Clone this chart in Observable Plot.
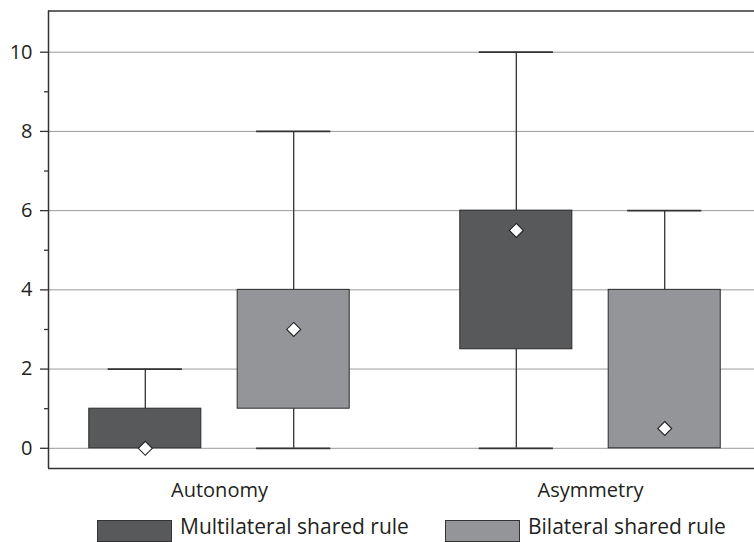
<!DOCTYPE html>
<html>
<head>
<meta charset="utf-8">
<script src="https://cdn.jsdelivr.net/npm/d3@7"></script>
<script src="https://cdn.jsdelivr.net/npm/@observablehq/plot@0.6"></script>
<style>
  html, body { margin: 0; padding: 0; background: #fff; }
  #chart { width: 754px; }
  .legend { display: flex; align-items: flex-start; padding-left: 97px; margin-top: 10px;
            font-family: "Open Sans", sans-serif; font-size: 21px; color: #231f20; line-height: 22px; }
  .item { display: flex; align-items: flex-start; }
  .item.first { width: 348px; }
  .sw { width: 75px; height: 22px; box-sizing: border-box; border: 1px solid #333; margin-right: 8px; margin-top: 5px; }
</style>
</head>
<body>
<div id="chart"></div>
<script>
const groups = ["Autonomy", "Asymmetry"];
const series = ["Multilateral shared rule", "Bilateral shared rule"];
const colors = ["#58595b", "#939598"];

// Multilateral shared rule, per group
const multiLow  = [0, 0];
const multiQ1   = [0, 2.5];
const multiQ3   = [1, 6];
const multiHigh = [2, 10];
const multiMean = [0, 5.5];

// Bilateral shared rule, per group
const biLow  = [0, 0];
const biQ1   = [1, 0];
const biQ3   = [4, 4];
const biHigh = [8, 6];
const biMean = [3, 0.5];

const yTicks = [0, 2, 4, 6, 8, 10];
const yMinorTicks = [1, 3, 5, 7, 9];
const yDomain = [-0.51, 11.04];
const xDomain = [-0.4609, 1.442];

const seriesStats = [
  {low: multiLow, q1: multiQ1, q3: multiQ3, high: multiHigh, mean: multiMean},
  {low: biLow, q1: biQ1, q3: biQ3, high: biHigh, mean: biMean}
];

const offset = 0.2, boxHalf = 0.151, capHalf = 0.1;
const rows = [];
groups.forEach((g, gi) => {
  series.forEach((s, si) => {
    const st = seriesStats[si];
    rows.push({
      group: g, series: s,
      x: gi + (si - 0.5) * 2 * offset,
      low: st.low[gi], q1: st.q1[gi], q3: st.q3[gi], high: st.high[gi], mean: st.mean[gi]
    });
  });
});

const lowerW = rows.filter(d => d.low < d.q1);
const upperW = rows.filter(d => d.high > d.q3);
const ink = "#333";

const chart = Plot.plot({
  width: 754,
  height: 505,
  marginLeft: 48,
  marginRight: 0,
  marginTop: 10.5,
  marginBottom: 37,
  style: {fontFamily: "Open Sans, sans-serif", fontSize: "20px", color: "#231f20", background: "#fff", overflow: "visible"},
  x: {type: "linear", domain: xDomain},
  y: {domain: yDomain},
  color: {domain: series, range: colors},
  marks: [
    Plot.ruleY(yTicks, {stroke: "#9a9a9a", strokeWidth: 1}),
    Plot.ruleX(upperW, {x: "x", y1: "q3", y2: "high", stroke: ink, strokeWidth: 1.3}),
    Plot.ruleX(lowerW, {x: "x", y1: "low", y2: "q1", stroke: ink, strokeWidth: 1.3}),
    Plot.ruleY(upperW, {y: "high", x1: d => d.x - capHalf, x2: d => d.x + capHalf, stroke: ink, strokeWidth: 1.8}),
    Plot.ruleY(lowerW, {y: "low", x1: d => d.x - capHalf, x2: d => d.x + capHalf, stroke: ink, strokeWidth: 1.8}),
    Plot.rect(rows, {x1: d => d.x - boxHalf, x2: d => d.x + boxHalf, y1: "q1", y2: "q3", fill: "series", stroke: "#2b2b2b", strokeWidth: 1}),
    Plot.dot(rows, {x: "x", y: "mean", symbol: "diamond2", r: 6.3, fill: "#fff", stroke: "#222", strokeWidth: 1.1}),
    Plot.ruleY([yDomain[1]], {stroke: ink, strokeWidth: 1.5}),
    Plot.ruleY([yDomain[0]], {stroke: ink, strokeWidth: 1.5}),
    Plot.ruleX([xDomain[0]], {stroke: ink, strokeWidth: 1.5}),
    Plot.axisY({ticks: yTicks, tickSize: 8, tickPadding: 8, stroke: ink, strokeWidth: 1.3, label: null}),
    Plot.axisY({ticks: yMinorTicks, tickSize: 4, tickFormat: () => "", stroke: ink, strokeWidth: 1.3, label: null}),
    Plot.axisX({ticks: [0, 1], tickFormat: i => groups[i], tickSize: 0, tickPadding: 14, label: null})
  ]
});
document.getElementById("chart").appendChild(chart);

const legend = document.createElement("div");
legend.className = "legend";
series.forEach((s, i) => {
  const item = document.createElement("div");
  item.className = i === 0 ? "item first" : "item";
  const sw = document.createElement("div");
  sw.className = "sw";
  sw.style.background = colors[i];
  const lab = document.createElement("span");
  lab.textContent = s;
  item.appendChild(sw);
  item.appendChild(lab);
  legend.appendChild(item);
});
document.getElementById("chart").appendChild(legend);
</script>
</body>
</html>
